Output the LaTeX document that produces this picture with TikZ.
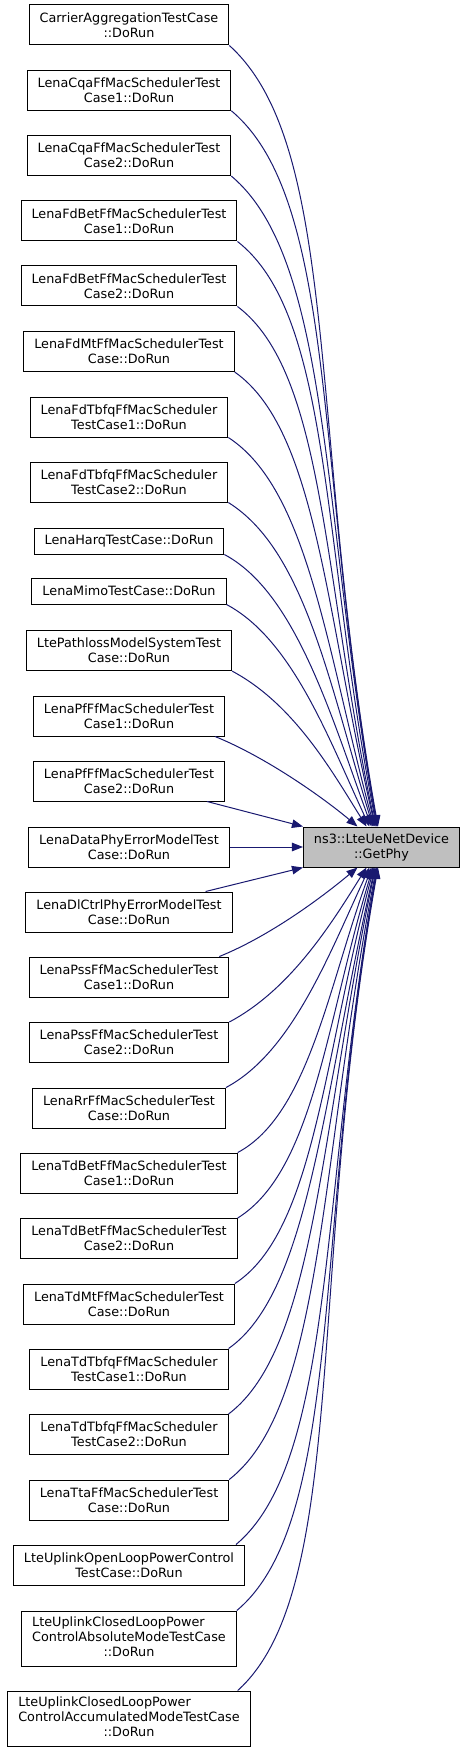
\documentclass[tikz,border=0pt]{standalone}
\usepackage{fontspec}
\setmainfont{DejaVu Sans}
\usetikzlibrary{arrows.meta}
\definecolor{callfill}{HTML}{BFBFBF}
\definecolor{calledge}{HTML}{191970}

\begin{document}
\begin{tikzpicture}[x=1pt,y=1pt,
  caller/.style={draw=black, line width=1pt, fill=white, inner xsep=10.5pt, inner ysep=1pt,
    minimum height=40pt, align=center, font=\fontsize{12.8}{15}\selectfont},
  callerA/.style={caller, minimum height=26pt},
  callerC/.style={caller, minimum height=55pt},
  callee/.style={caller, fill=callfill},
  calls/.style={calledge, line width=1pt, -{Triangle[length=11pt,width=8.5pt]}}]
\useasboundingbox (0,0) rectangle (467,-1752);

% callers
\node[caller] (b1) at (129,-25) {CarrierAggregationTestCase\\::DoRun};
\node[caller] (b2) at (129,-90.3) {LenaCqaFfMacSchedulerTest\\Case1::DoRun};
\node[caller] (b3) at (129,-155.6) {LenaCqaFfMacSchedulerTest\\Case2::DoRun};
\node[caller] (b4) at (129,-221) {LenaFdBetFfMacSchedulerTest\\Case1::DoRun};
\node[caller] (b5) at (129,-286) {LenaFdBetFfMacSchedulerTest\\Case2::DoRun};
\node[caller] (b6) at (129,-351.5) {LenaFdMtFfMacSchedulerTest\\Case::DoRun};
\node[caller] (b7) at (129,-417) {LenaFdTbfqFfMacScheduler\\TestCase1::DoRun};
\node[caller] (b8) at (129,-482) {LenaFdTbfqFfMacScheduler\\TestCase2::DoRun};
\node[callerA] (b9) at (129,-541) {LenaHarqTestCase::DoRun};
\node[callerA] (b10) at (129,-591) {LenaMimoTestCase::DoRun};
\node[caller] (b11) at (129,-650.6) {LtePathlossModelSystemTest\\Case::DoRun};
\node[caller] (b12) at (129,-716) {LenaPfFfMacSchedulerTest\\Case1::DoRun};
\node[caller] (b13) at (129,-781) {LenaPfFfMacSchedulerTest\\Case2::DoRun};
\node[caller] (b14) at (129,-847) {LenaDataPhyErrorModelTest\\Case::DoRun};
\node[caller] (b15) at (129,-912) {LenaDlCtrlPhyErrorModelTest\\Case::DoRun};
\node[caller] (b16) at (129,-977) {LenaPssFfMacSchedulerTest\\Case1::DoRun};
\node[caller] (b17) at (129,-1042.5) {LenaPssFfMacSchedulerTest\\Case2::DoRun};
\node[caller] (b18) at (129,-1108) {LenaRrFfMacSchedulerTest\\Case::DoRun};
\node[caller] (b19) at (129,-1173) {LenaTdBetFfMacSchedulerTest\\Case1::DoRun};
\node[caller] (b20) at (129,-1238.5) {LenaTdBetFfMacSchedulerTest\\Case2::DoRun};
\node[caller] (b21) at (129,-1304) {LenaTdMtFfMacSchedulerTest\\Case::DoRun};
\node[caller] (b22) at (129,-1369) {LenaTdTbfqFfMacScheduler\\TestCase1::DoRun};
\node[caller] (b23) at (129,-1434.5) {LenaTdTbfqFfMacScheduler\\TestCase2::DoRun};
\node[caller] (b24) at (129,-1500) {LenaTtaFfMacSchedulerTest\\Case::DoRun};
\node[caller] (b25) at (129,-1565) {LteUplinkOpenLoopPowerControl\\TestCase::DoRun};
\node[callerC] (b26) at (129,-1638.5) {\begin{tabular}{@{}l@{}}LteUplinkClosedLoopPower\\ControlAbsoluteModeTestCase\\\multicolumn{1}{@{}c@{}}{::DoRun}\end{tabular}};
\node[callerC] (b27) at (129,-1718.5) {\begin{tabular}{@{}l@{}}LteUplinkClosedLoopPower\\ControlAccumulatedModeTestCase\\\multicolumn{1}{@{}c@{}}{::DoRun}\end{tabular}};

% callee
\node[callee] (phy) at (381.5,-847) {ns3::LteUeNetDevice\\::GetPhy};

% calls from above
\draw[calls] (b1.south east) .. controls +(-42:150) and +(100:400) .. ([xshift=-3.5pt]phy.north);
\draw[calls] (b2.south east) .. controls +(-40:140) and +(100:360) .. ([xshift=-4pt]phy.north);
\draw[calls] (b3.south east) .. controls +(-40:130) and +(100:320) .. ([xshift=-4.5pt]phy.north);
\draw[calls] (b4.south east) .. controls +(-38:120) and +(101:290) .. ([xshift=-5pt]phy.north);
\draw[calls] (b5.south east) .. controls +(-37:110) and +(102:255) .. ([xshift=-6pt]phy.north);
\draw[calls] (b6.south east) .. controls +(-35:100) and +(103:220) .. ([xshift=-6.5pt]phy.north);
\draw[calls] (b7.south east) .. controls +(-33:95) and +(105:185) .. ([xshift=-7.5pt]phy.north);
\draw[calls] (b8.south east) .. controls +(-32:90) and +(107:150) .. ([xshift=-8.5pt]phy.north);
\draw[calls] (b9.south east) .. controls +(-28:80) and +(110:120) .. ([xshift=-10pt]phy.north);
\draw[calls] (b10.south east) .. controls +(-28:75) and +(115:95) .. ([xshift=-12pt]phy.north);
\draw[calls] (b11.south east) .. controls +(-28:70) and +(122:65) .. ([xshift=-15pt]phy.north);
\draw[calls] ([xshift=-10pt]b12.south east) .. controls +(-22:55) and +(140:45) .. ([xshift=-24pt]phy.north);
\draw[calls] ([xshift=-18pt]b13.south east) -- (phy.north west);

% straight across
\draw[calls] (b14.east) -- (phy.west);

% calls from below
\draw[calls] ([xshift=-27pt]b15.north east) -- (phy.south west);
\draw[calls] ([xshift=-10pt]b16.north east) .. controls +(22:55) and +(-140:45) .. ([xshift=-24pt]phy.south);
\draw[calls] (b17.north east) .. controls +(28:70) and +(-122:65) .. ([xshift=-15pt]phy.south);
\draw[calls] (b18.north east) .. controls +(28:75) and +(-115:95) .. ([xshift=-12pt]phy.south);
\draw[calls] (b19.north east) .. controls +(28:80) and +(-110:125) .. ([xshift=-10pt]phy.south);
\draw[calls] (b20.north east) .. controls +(32:90) and +(-107:160) .. ([xshift=-8.5pt]phy.south);
\draw[calls] (b21.north east) .. controls +(33:95) and +(-105:195) .. ([xshift=-7.5pt]phy.south);
\draw[calls] (b22.north east) .. controls +(35:100) and +(-103:230) .. ([xshift=-6.5pt]phy.south);
\draw[calls] (b23.north east) .. controls +(37:110) and +(-102:265) .. ([xshift=-6pt]phy.south);
\draw[calls] (b24.north east) .. controls +(38:120) and +(-101:300) .. ([xshift=-5pt]phy.south);
\draw[calls] ([xshift=-9pt]b25.north east) .. controls +(40:130) and +(-100:330) .. ([xshift=-4.5pt]phy.south);
\draw[calls] (b26.north east) .. controls +(40:140) and +(-100:370) .. ([xshift=-4pt]phy.south);
\draw[calls] ([xshift=-13pt]b27.north east) .. controls +(42:150) and +(-100:410) .. ([xshift=-3.5pt]phy.south);

\end{tikzpicture}
\end{document}
